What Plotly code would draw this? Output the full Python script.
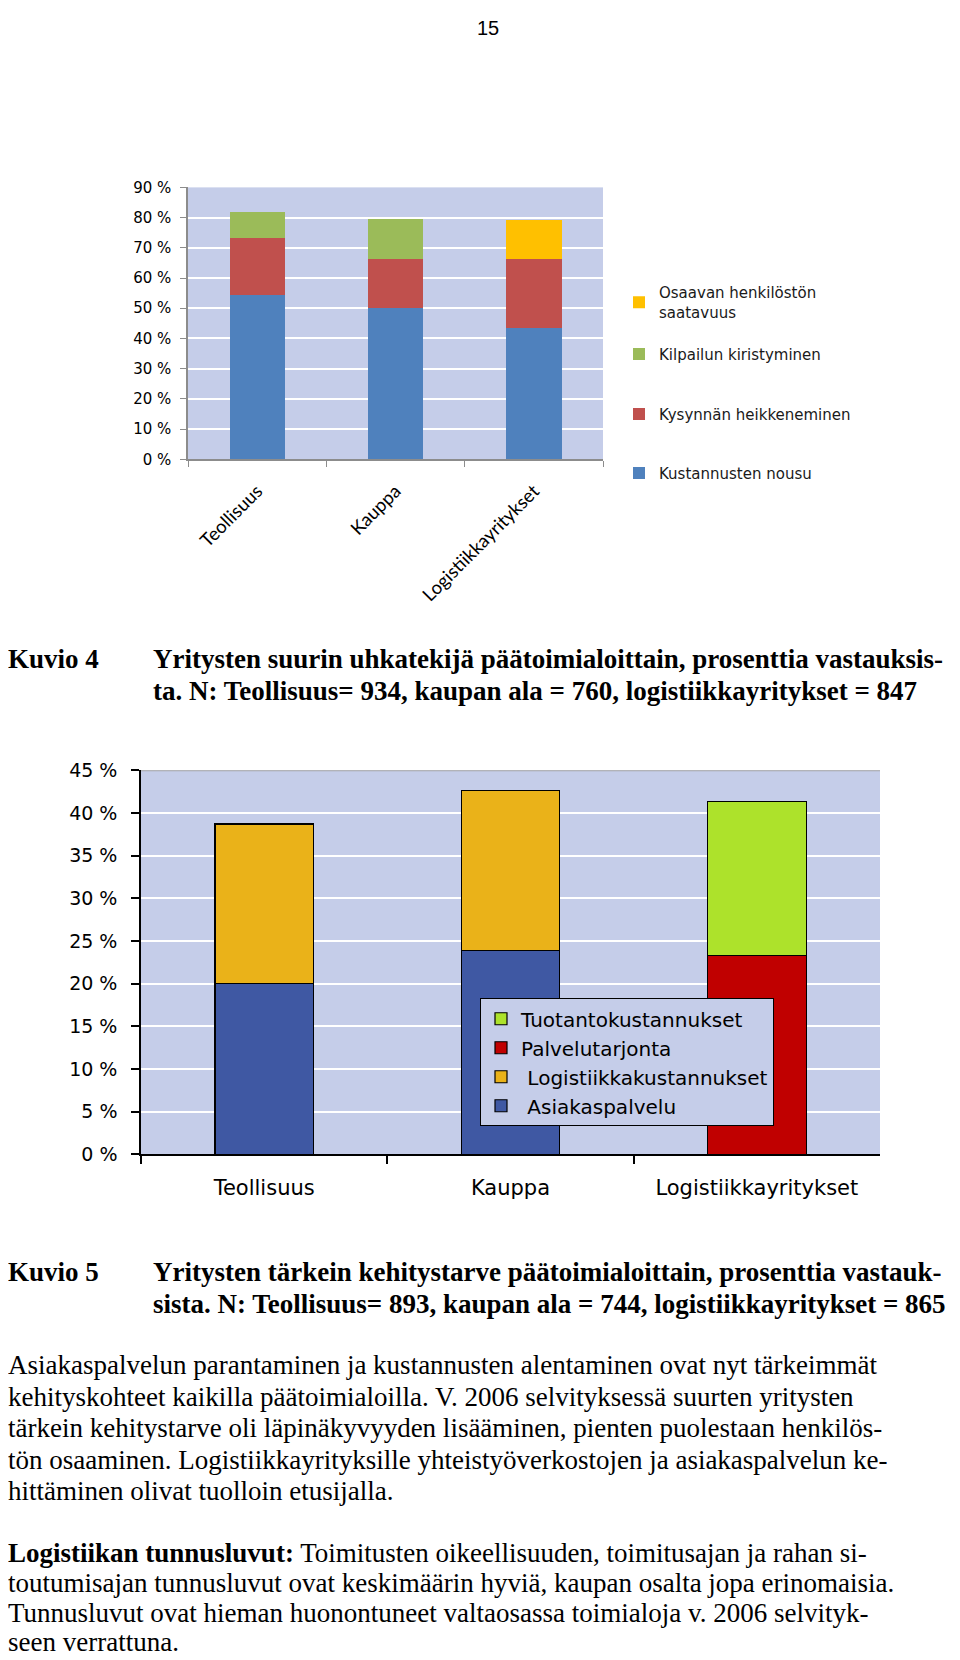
import plotly.graph_objects as go

# page is offset by the browser's 8px body margin; target coordinates are page pixels
OFF = 8
FW, FH = 960 - OFF, 1680 - OFF

# ---------------- Data ----------------
categories = ["Teollisuus", "Kauppa", "Logistiikkayritykset"]

# Kuvio 4 (chart 1), percent
c1_kustannusten_nousu = [54.5, 50.1, 43.3]
c1_kysynnan_heikkeneminen = [18.7, 16.2, 23.0]
c1_kilpailun_kiristyminen = [8.8, 13.3, None]
c1_osaavan_henkiloston_saatavuus = [None, None, 12.8]
c1_names = ["Kustannusten nousu", "Kysynnän heikkeneminen",
            "Kilpailun kiristyminen", "Osaavan henkilöstön<br>saatavuus"]
c1_yticks = [0, 10, 20, 30, 40, 50, 60, 70, 80, 90]
c1_yticktext = ["0 %", "10 %", "20 %", "30 %", "40 %", "50 %", "60 %", "70 %", "80 %", "90 %"]

# Kuvio 5 (chart 2), percent
c2_asiakaspalvelu = [20.0, 23.9, None]
c2_logistiikkakustannukset = [18.7, 18.7, None]
c2_palvelutarjonta = [None, None, 23.3]
c2_tuotantokustannukset = [None, None, 18.0]
c2_names = [" Asiakaspalvelu", " Logistiikkakustannukset",
            "Palvelutarjonta", "Tuotantokustannukset"]
c2_yticks = [0, 5, 10, 15, 20, 25, 30, 35, 40, 45]
c2_yticktext = ["0 %", "5 %", "10 %", "15 %", "20 %", "25 %", "30 %", "35 %", "40 %", "45 %"]

# Page text
page_number = "15"
kuvio4_label = "Kuvio 4"
kuvio4_lines = ["Yritysten suurin uhkatekijä päätoimialoittain, prosenttia vastauksis-",
                "ta. N: Teollisuus= 934, kaupan ala = 760, logistiikkayritykset = 847"]
kuvio5_label = "Kuvio 5"
kuvio5_lines = ["Yritysten tärkein kehitystarve päätoimialoittain, prosenttia vastauk-",
                "sista. N: Teollisuus= 893, kaupan ala = 744, logistiikkayritykset = 865"]
para1_lines = ["Asiakaspalvelun parantaminen ja kustannusten alentaminen ovat nyt tärkeimmät",
               "kehityskohteet kaikilla päätoimialoilla. V. 2006 selvityksessä suurten yritysten",
               "tärkein kehitystarve oli läpinäkyvyyden lisääminen, pienten puolestaan henkilös-",
               "tön osaaminen. Logistiikkayrityksille yhteistyöverkostojen ja asiakaspalvelun ke-",
               "hittäminen olivat tuolloin etusijalla."]
para2_lines = ["<b>Logistiikan tunnusluvut:</b> Toimitusten oikeellisuuden, toimitusajan ja rahan si-",
               "toutumisajan tunnusluvut ovat keskimäärin hyviä, kaupan osalta jopa erinomaisia.",
               "Tunnusluvut ovat hieman huonontuneet valtaosassa toimialoja v. 2006 selvityk-",
               "seen verrattuna."]


def px(x):
    return (x - OFF) / FW


def py(y):
    # vertical calibration observed from earlier renders
    y = (y - 10.7) / 0.987
    return 1 - (y - OFF) / FH


BG = "#C5CDE9"
fig = go.Figure()

# ---------------- Chart 1 ----------------
c1_series = [c1_kustannusten_nousu, c1_kysynnan_heikkeneminen,
             c1_kilpailun_kiristyminen, c1_osaavan_henkiloston_saatavuus]
c1_colors = ["#4F81BD", "#C0504D", "#9BBB59", "#FFC000"]
c1_legends = ["legend4", "legend3", "legend2", "legend"]
for vals, name, col, lg in zip(c1_series, c1_names, c1_colors, c1_legends):
    fig.add_trace(go.Bar(x=categories, y=vals, name=name, marker_color=col,
                         marker_line_width=0, width=0.4, xaxis="x", yaxis="y",
                         legend=lg))

# ---------------- Chart 2 ----------------
c2_series = [c2_asiakaspalvelu, c2_logistiikkakustannukset,
             c2_palvelutarjonta, c2_tuotantokustannukset]
c2_colors = ["#3F58A3", "#EAB219", "#C00000", "#ADE22B"]
for vals, name, col in zip(c2_series, c2_names, c2_colors):
    fig.add_trace(go.Bar(x=categories, y=vals, name=name, marker_color=col,
                         marker_line=dict(color="#000000", width=1.2), width=0.4,
                         xaxis="x2", yaxis="y2", legend="legend5"))

leg1_font = dict(family="DejaVu Sans", size=15, color="#1a1a1a")


def small_legend(xp, yp):
    return dict(x=px(xp), y=py(yp), xanchor="left", yanchor="middle",
                bgcolor="rgba(0,0,0,0)", borderwidth=0, font=leg1_font)


fig.update_layout(
    width=FW, height=FH,
    margin=dict(l=0, r=0, t=0, b=0),
    paper_bgcolor="white", plot_bgcolor=BG,
    barmode="stack", bargap=0.6,
    xaxis=dict(domain=[px(188), px(603)], anchor="y", type="category",
               showgrid=False, showline=True, linecolor="#8C8C8C", linewidth=1.5,
               ticks="outside", tickson="boundaries", ticklen=6, tickcolor="#8C8C8C",
               tickangle=-45, ticklabelstandoff=12,
               tickfont=dict(family="Lato", size=18.5, color="#000000")),
    yaxis=dict(domain=[py(459), py(187)], anchor="x", range=[0, 90],
               tickmode="array", tickvals=c1_yticks, ticktext=c1_yticktext,
               showgrid=True, gridcolor="white", gridwidth=2, zeroline=False,
               showline=True, linecolor="#8C8C8C", linewidth=1.5,
               ticks="outside", ticklen=6, tickcolor="#8C8C8C", ticklabelstandoff=6,
               tickfont=dict(family="DejaVu Sans", size=15, color="#000000")),
    xaxis2=dict(domain=[px(141), px(880)], anchor="y2", type="category",
                showgrid=False, showline=True, linecolor="#000000", linewidth=2,
                ticks="outside", tickson="boundaries", ticklen=8, tickcolor="#000000",
                tickwidth=1.5, ticklabelstandoff=14,
                tickfont=dict(family="DejaVu Sans", size=21, color="#000000")),
    yaxis2=dict(domain=[py(1154), py(770)], anchor="x2", range=[0, 45],
                tickmode="array", tickvals=c2_yticks, ticktext=c2_yticktext,
                showgrid=True, gridcolor="white", gridwidth=2, zeroline=False,
                showline=True, linecolor="#000000", linewidth=1.5,
                ticks="outside", ticklen=8, tickcolor="#000000", tickwidth=1.5,
                ticklabelstandoff=10,
                tickfont=dict(family="DejaVu Sans", size=19, color="#000000")),
    legend=small_legend(619, 302),
    legend2=small_legend(619, 354),
    legend3=small_legend(619, 414),
    legend4=small_legend(619, 473),
    legend5=dict(x=px(480), y=py(998), xanchor="left", yanchor="top",
                 bgcolor=BG, bordercolor="#000000", borderwidth=1,
                 traceorder="reversed",
                 font=dict(family="DejaVu Sans", size=20, color="#000000")),
    showlegend=True,
)

# top border of chart 2
fig.add_shape(type="line", xref="x2 domain", yref="y2", x0=0, x1=1, y0=45, y1=45,
              line=dict(color="#A6A6A6", width=2))

# ---------------- Text ----------------
serif = "Liberation Serif"
annos = []
annos.append(dict(text=page_number, x=px(488), y=1 - 9 / FH,
                  xanchor="center", yanchor="middle",
                  font=dict(family="Liberation Sans", size=20, color="#000")))


def line(txt, x, y, bold=False):
    t = f"<b>{txt}</b>" if bold else txt
    annos.append(dict(text=t, x=max(px(x), -2 / FW), y=py(y), xanchor="left", yanchor="middle",
                      font=dict(family=serif, size=27, color="#000")))


line(kuvio4_label, 3, 659, True)
for i, t in enumerate(kuvio4_lines):
    line(t, 151, 659 + i * 32, True)
line(kuvio5_label, 3, 1272, True)
for i, t in enumerate(kuvio5_lines):
    line(t, 151, 1272 + i * 32, True)
for i, t in enumerate(para1_lines):
    line(t, 3, 1365 + i * 31.5)
for i, t in enumerate(para2_lines):
    line(t, 3, 1553 + i * 29.7)

for a in annos:
    a.update(xref="paper", yref="paper", showarrow=False)
fig.update_layout(annotations=annos)

fig.write_html("out.html")
